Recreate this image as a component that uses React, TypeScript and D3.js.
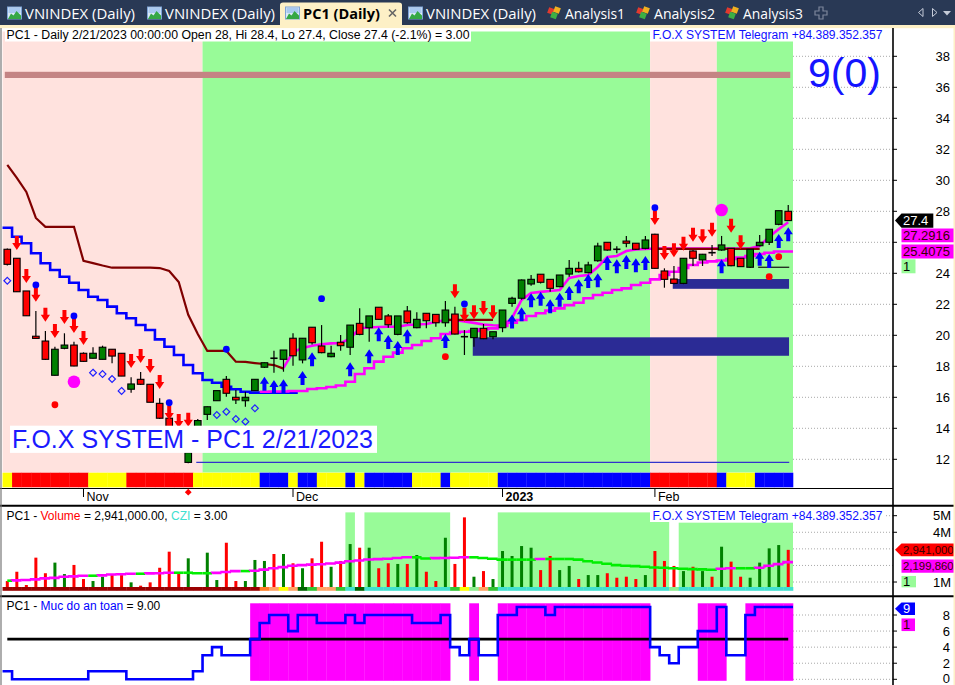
import React from "react";
import * as d3 from "d3";

// ---------------- DATA ----------------
const octDays = [20, 21, 24, 25, 26, 27, 28, 31];
const novDays = [1, 2, 3, 4, 7, 8, 9, 10, 11, 14, 15, 16, 17, 18, 21, 22, 23, 24, 25, 28, 29, 30];
const decDays = [1, 2, 5, 6, 7, 8, 9, 12, 13, 14, 15, 16, 19, 20, 21, 22, 23, 26, 27, 28, 29, 30];
const janDays = [3, 4, 5, 6, 9, 10, 11, 12, 13, 16, 17, 18, 19, 27, 30, 31];
const febDays = [1, 2, 3, 6, 7, 8, 9, 10, 13, 14, 15, 16, 17, 20, 21];
const pad = (n: number) => String(n).padStart(2, "0");
const dates: string[] = [
  ...octDays.map((d) => `2022-10-${pad(d)}`),
  ...novDays.map((d) => `2022-11-${pad(d)}`),
  ...decDays.map((d) => `2022-12-${pad(d)}`),
  ...janDays.map((d) => `2023-01-${pad(d)}`),
  ...febDays.map((d) => `2023-02-${pad(d)}`),
];

const monthTicks = [
  { date: "2022-11-01", label: "Nov", bold: false },
  { date: "2022-12-01", label: "Dec", bold: false },
  { date: "2023-01-03", label: "2023", bold: true },
  { date: "2023-02-01", label: "Feb", bold: false },
];

const opens = [25.55, 24.97, 22.86, 19.94, 19.63, 17.42, 19.16, 19.37, 18.84, 18.52,
  18.45, 19.1, 18.84, 16.52, 17.16, 16.84, 15.61, 14.65, 13.9, 11.8,
  13.0, 14.9, 15.78, 17.16, 16.0, 15.78, 16.43, 17.94, 18.52, 18.45,
  19.81, 18.41, 20.52, 19.31, 18.62, 19.55, 19.23, 20.77, 20.49, 21.81,
  21.25, 20.06, 21.57, 20.49, 21.42, 21.35, 20.81, 21.37, 19.91, 19.85,
  20.45, 19.91, 20.49, 22.06, 22.39, 23.31, 23.94, 23.61, 23.14, 23.95,
  24.32, 24.04, 24.81, 26.0, 25.55, 26.08, 25.94, 25.61, 26.52, 24.15,
  23.63, 23.35, 25.44, 24.86, 25.33, 25.5, 25.61, 24.97, 24.39, 25.78,
  26.0, 27.16, 28.0];
const highs = [25.6, 24.97, 22.86, 21.57, 20.28, 19.26, 20.13, 19.59, 18.9, 19.23,
  19.33, 19.1, 18.84, 17.29, 17.63, 16.84, 15.94, 14.8, 13.95, 13.8,
  14.6, 15.4, 16.43, 17.37, 16.47, 16.36, 17.16, 18.25, 19.0, 19.05,
  20.13, 19.81, 20.52, 20.66, 19.33, 20.02, 20.66, 21.74, 21.25, 21.81,
  21.37, 21.25, 21.89, 21.48, 21.42, 21.35, 22.21, 21.85, 20.34, 20.45,
  20.73, 20.23, 21.63, 22.49, 23.6, 23.89, 23.94, 23.61, 23.89, 24.86,
  24.75, 24.75, 25.97, 26.0, 25.75, 26.41, 25.94, 26.41, 26.55, 24.32,
  24.47, 24.97, 25.5, 25.25, 25.83, 26.41, 25.61, 24.97, 25.55, 26.47,
  26.84, 28.04, 28.4];
const lows = [24.5, 22.8, 21.26, 19.8, 18.4, 17.4, 19.1, 18.0, 18.3, 18.5,
  18.45, 18.19, 17.37, 16.3, 16.8, 15.68, 14.6, 13.6, 12.6, 11.75,
  12.9, 14.54, 15.78, 16.04, 15.57, 15.39, 16.43, 17.9, 17.59, 17.65,
  18.04, 18.19, 19.4, 18.84, 18.58, 19.0, 18.73, 20.0, 19.59, 21.0,
  20.49, 20.0, 20.75, 20.45, 20.45, 20.55, 20.55, 20.05, 18.73, 19.26,
  19.75, 19.74, 20.2, 21.85, 22.3, 23.2, 23.35, 22.81, 23.1, 23.78,
  24.05, 24.0, 24.75, 25.45, 25.3, 25.68, 25.5, 25.55, 24.3, 23.07,
  23.3, 23.3, 24.47, 24.47, 25.12, 25.45, 24.45, 24.43, 24.35, 25.75,
  25.83, 27.1, 27.4];
const closes = [24.58, 22.81, 21.26, 19.8, 18.45, 19.1, 19.37, 18.02, 18.32, 18.84,
  19.23, 18.66, 17.37, 16.86, 16.84, 15.68, 14.65, 13.8, 12.8, 12.43,
  14.5, 15.39, 16.43, 16.26, 15.83, 16.0, 17.16, 18.23, 18.52, 19.05,
  18.68, 19.81, 19.52, 18.88, 18.84, 19.33, 20.66, 20.06, 21.25, 21.03,
  20.68, 21.25, 20.81, 21.03, 20.94, 20.81, 21.63, 20.08, 19.91, 20.45,
  19.78, 20.23, 21.63, 22.39, 23.57, 23.61, 23.42, 23.03, 23.89, 24.32,
  24.1, 24.54, 25.76, 25.5, 25.55, 25.94, 25.55, 26.15, 24.32, 23.61,
  23.35, 24.97, 24.97, 25.23, 25.33, 25.83, 24.49, 24.43, 25.55, 26.0,
  26.84, 28.04, 27.4];

// volume in millions
const volumesM = [1.06, 1.62, 0.82, 2.47, 1.53, 2.17, 1.48, 2.03, 1.18, 1.06,
  1.32, 1.48, 1.42, 0.98, 0.78, 0.98, 1.86, 2.83, 1.53, 2.43,
  0.6, 2.77, 1.12, 3.37, 1.06, 1.06, 2.33, 2.27, 2.69, 2.69,
  2.13, 1.83, 2.43, 3.43, 1.92, 2.27, 3.29, 3.07, 3.07, 1.83,
  2.13, 2.09, 2.09, 2.63, 1.62, 1.06, 3.67, 2.09, 4.9, 1.32,
  1.66, 1.18, 2.87, 2.57, 3.17, 3.07, 1.72, 2.57, 1.72, 1.97,
  1.18, 1.42, 1.42, 1.53, 1.26, 1.32, 1.18, 1.42, 2.87, 2.27,
  1.97, 1.66, 1.92, 1.66, 1.32, 3.13, 2.23, 1.32, 1.26, 2.17,
  3.03, 3.23, 2.941];
const volumeMA_M = [1.08, 1.1, 1.12, 1.16, 1.22, 1.25, 1.32, 1.34, 1.38, 1.38,
  1.4, 1.45, 1.47, 1.5, 1.5, 1.52, 1.53, 1.56, 1.56, 1.56,
  1.53, 1.53, 1.55, 1.6, 1.66, 1.66, 1.68, 1.75, 1.83, 1.9,
  1.98, 2.02, 2.05, 2.07, 2.12, 2.17, 2.25, 2.3, 2.36, 2.38,
  2.4, 2.45, 2.49, 2.49, 2.42, 2.44, 2.45, 2.46, 2.49, 2.49,
  2.45, 2.4, 2.35, 2.35, 2.35, 2.35, 2.39, 2.39, 2.39, 2.39,
  2.35, 2.25, 2.18, 2.1, 2.02, 1.98, 1.96, 1.92, 1.88, 1.86,
  1.83, 1.8, 1.78, 1.76, 1.74, 1.8, 1.83, 1.83, 1.83, 1.86,
  1.98, 2.08, 2.19986];

const safetyLevel = [1, 0, 0, 0, 0, 0, 0, 0, 0, 1,
  1, 1, 1, 0, 0, 0, 0, 0, 0, 0,
  1, 3, 4, 3, 3, 3, 5, 7, 8, 8,
  6, 8, 8, 7, 7, 7, 8, 7, 8, 8,
  8, 8, 8, 7, 7, 7, 8, 4, 3, 5,
  3, 3, 8, 8, 9, 9, 9, 8, 9, 9,
  9, 9, 9, 9, 9, 9, 9, 9, 4, 3,
  2, 4, 4, 6, 6, 9, 3, 3, 8, 9,
  9, 9, 9];

const _ = null;
const stopLine = [30.99, 30.15, 29.25, 27.57, 27.0, 27.0, 27.0, 27.0, 24.8, 24.66,
  24.5, 24.36, 24.36, 24.36, 24.36, 24.36, 24.34, 24.15, 23.44, 21.32,
  20.08, 18.99, 18.99, 18.99, 18.3, 18.28, 18.21, 18.15, 18.08, 17.85,
  _, _, _, _, _, _, _, _, _, _,
  _, _, _, _, _, _, 20.99, 20.99, 20.99, 20.99,
  20.99, 20.99, _, _, _, _, _, _, _, _,
  _, _, _, _, _, _, _, _, 25.57, 25.57,
  25.57, 25.57, 25.57, 25.57, 25.57, 25.57, 25.57, 25.57, 25.57, 25.57,
  _, _, _];
const trailBlue = [26.94, 26.36, 25.94, 25.29, 24.65, 24.21, 23.78, 23.39, 22.92, 22.49,
  22.28, 21.85, 21.42, 21.1, 20.66, 20.34, 19.74, 19.26, 18.73, 18.08,
  17.55, 17.12, 16.94, 16.68, 16.52, 16.36, 16.3, 16.3, 16.3, 16.3,
  16.3, _, _, _, _, _, _, _, _, _,
  _, _, _, _, _, _, _, _, _, _,
  _, _, _, _, _, _, _, _, _, _,
  _, _, _, _, _, _, _, _, _, _,
  _, _, _, _, _, _, _, _, _, _,
  _, _, _];
const maSlow = [_, _, _, _, _, _, _, _, _, _,
  _, _, _, _, _, _, _, _, _, _,
  _, _, _, _, _, _, _, 16.36, 16.37, 16.37,
  16.41, 16.41, 16.54, 16.58, 16.66, 16.76, 17.0, 17.5, 17.87, 18.3,
  18.62, 18.88, 19.16, 19.37, 19.63, 19.81, 20.08, 20.17, 20.23, 20.28,
  20.39, 20.45, 20.6, 20.81, 20.99, 21.25, 21.42, 21.59, 21.74, 21.95,
  22.1, 22.39, 22.6, 22.75, 22.92, 23.03, 23.25, 23.39, 23.61, 23.89,
  24.1, 24.34, 24.54, 24.7, 24.77, 24.83, 24.92, 25.02, 25.12, 25.25,
  25.33, 25.41, 25.4075];
const maFast = [_, _, _, _, _, _, _, _, _, _,
  _, _, _, _, _, _, _, _, _, _,
  _, _, _, _, _, _, _, _, _, 17.9,
  18.92, 19.18, 19.33, 19.42, 19.48, 19.5, 19.8, 20.45, 20.5, 20.54,
  20.55, 20.55, 20.66, 20.7, 20.73, 20.86, 20.99, 20.99, 20.9, 20.8,
  20.7, 20.65, 20.62, 21.12, 22.28, 22.73, 22.8, 22.86, 22.92, 23.7,
  23.83, 23.89, 24.41, 25.05, 25.12, 25.44, 25.54, 25.57, 25.6, 25.6,
  25.6, 25.6, 25.6, 25.6, 25.6, 25.6, 25.6, 25.6, 25.62, 25.76,
  26.36, 26.85, 27.2916];

// [bar index, price at arrow tip]
const sellArrows = [[1, 25.5], [2, 23.37], [3, 22.17], [4, 20.88], [5, 19.83], [6, 20.73], [7, 20.15], [8, 19.37],
  [13, 17.89], [14, 18.21], [15, 17.57], [16, 16.54], [17, 14.54], [18, 14.02], [19, 14.1],
  [47, 22.39], [48, 20.88], [49, 21.03], [50, 21.31], [51, 21.03],
  [68, 27.12], [69, 24.86], [70, 25.03], [71, 25.46], [72, 26.04], [73, 25.94], [74, 26.36], [76, 26.62], [77, 25.55]];
const buyArrows = [[27, 17.33], [28, 17.12], [29, 17.16], [31, 17.7], [32, 18.9], [36, 18.26], [38, 19.1], [39, 20.52],
  [40, 20.02], [41, 19.63], [42, 20.39], [46, 20.08], [53, 21.35], [54, 21.81], [55, 22.71], [56, 22.81],
  [57, 22.32], [58, 22.75], [59, 23.18], [60, 23.61], [61, 23.95], [62, 24.0], [63, 25.12], [64, 24.9],
  [65, 25.18], [66, 24.97], [67, 25.12], [75, 24.9], [79, 25.39], [80, 25.25], [81, 26.54], [82, 26.97]];
const blueDots = [[3, 23.25], [7, 21.25], [17, 15.65], [23, 19.1], [33, 22.36], [48, 22.02], [68, 28.23]];
const redDots = [[5, 15.52], [46, 18.62], [80, 23.78], [81, 25.07]];
const bigDots = [[7, 17.0], [75, 28.08]];
const hollowDiamonds = [[0, 23.52], [9, 17.59], [10, 17.5], [11, 17.18], [12, 16.41], [22, 14.86], [23, 15.07], [24, 14.6], [25, 14.43], [26, 15.29]];

// zones: [firstBar, lastBar, kind]
const bgZones = [[0, 20, "pink"], [21, 67, "green"], [68, 74, "pink"], [75, 82, "green"]];
// navy boxes: [firstBar, lastBar, lowPrice, highPrice]
const navyBoxes = [[49, 82, 18.68, 19.87], [70, 82, 23.0, 23.63]];
const resistanceBand = [36.6, 37.0];
const supportLevel = [20, 82, 11.8];
const shortLevel = [79, 82, 24.39];
// volume pane green zones: [firstBar, lastBar, level (M)]
const volZones = [[36, 36, 5.2], [38, 46, 5.2], [52, 69, 5.2], [71, 82, 4.58]];

// colour strips as runs [code, count]
const mainStripRuns: [string, number][] = [["Y", 1], ["R", 8], ["Y", 4], ["R", 7], ["Y", 7], ["B", 3], ["Y", 1], ["B", 2], ["Y", 3], ["B", 1], ["Y", 1], ["B", 5], ["Y", 3], ["B", 1], ["Y", 5], ["B", 16], ["R", 7], ["B", 1], ["Y", 3], ["B", 4]];
const volStripRuns: [string, number][] = [["dr", 27], ["or", 1], ["lo", 1], ["ye", 1], ["lo", 1], ["dg", 1], ["gr", 1], ["lo", 2], ["gr", 1], ["tq", 1], ["dg", 1], ["tq", 9], ["gr", 1], ["ye", 1], ["lg", 1], ["lo", 1], ["gr", 1], ["tq", 18], ["lg", 1], ["tq", 12]];

const priceTicks = [12, 14, 16, 18, 20, 22, 24, 26, 28, 30, 32, 34, 36, 38];
const priceTickLabels = [12, 14, 16, 18, 20, 22, 24, 28, 30, 32, 34, 36, 38];
const volTicks = [1, 2, 3, 4, 5];
const volTickLabels = [1, 4, 5];
const safetyTicks = [0, 2, 4, 6, 8];

// ---------------- LAYOUT / SCALES ----------------
const FONT = "'Liberation Sans', Arial, Helvetica, sans-serif";
const UI_FONT = "'Open Sans', 'Noto Sans', 'DejaVu Sans', sans-serif";
const COLORS: Record<string, string> = {
  pink: "#ffe2de", green: "#98fb98",
  Y: "#ffff00", R: "#ff0000", B: "#0000ff",
  dr: "#990000", or: "#ff7f27", lo: "#ffa366", ye: "#ffff00", dg: "#006400", gr: "#33c433", tq: "#40e0d0", lg: "#90ee90",
};

const xBand = d3.scaleBand<string>().domain(dates).range([2.54, 793.0]).paddingInner(0).paddingOuter(0);
const bw = xBand.bandwidth();
const lx = (i: number) => xBand(dates[i]) as number;
const rx = (i: number) => (xBand(dates[i]) as number) + bw;
const cx = (i: number) => lx(i) + bw / 2;

const priceY = d3.scaleLinear().domain([12, 38]).range([459.3, 56.3]);
const volY = d3.scaleLinear().domain([0, 5]).range([598.6, 515.7]);
const safeY = d3.scaleLinear().domain([0, 8]).range([679.3, 615]);

const AXIS_X = 893;
const MAIN_TOP = 31.5, MAIN_BOTTOM = 472.5;
const VOL_BOTTOM = 587;

function stepD(vals: (number | null)[], y: (v: number) => number): string {
  const idx = vals.map((v, i) => (v == null ? -1 : i)).filter((i) => i >= 0);
  const pts: [number, number][] = idx.map((i) => [lx(i), y(vals[i] as number)]);
  const last = idx[idx.length - 1];
  pts.push([rx(last), y(vals[last] as number)]);
  return d3.line().curve(d3.curveStepAfter)(pts) || "";
}

const linePrice = d3
  .line<number | null>()
  .defined((v) => v != null)
  .x((_v, i) => cx(i))
  .y((v) => priceY(v as number));

function expandRuns(runs: [string, number][]): string[] {
  const out: string[] = [];
  runs.forEach(([c, n]) => { for (let k = 0; k < n; k++) out.push(c); });
  return out;
}
const mainStrip = expandRuns(mainStripRuns);
const volStrip = expandRuns(volStripRuns);

const downArrow = (x: number, ty: number) =>
  `M${x - 2},${ty - 14}H${x + 2}V${ty - 7}H${x + 4.6}L${x},${ty}L${x - 4.6},${ty - 7}H${x - 2}Z`;
const upArrow = (x: number, ty: number) =>
  `M${x - 2},${ty + 14}H${x + 2}V${ty + 7}H${x + 4.6}L${x},${ty}L${x - 4.6},${ty + 7}H${x - 2}Z`;

function Tag({ yc, x1, fill, text, color, arrow, h = 14.4, fs = 13 }: any) {
  const x0 = 901.5;
  const top = yc - h / 2, bot = yc + h / 2;
  const d = arrow
    ? `M${x0 - 6.5},${yc}L${x0},${top}H${x1}V${bot}H${x0}Z`
    : `M${x0},${top}H${x1}V${bot}H${x0}Z`;
  return (
    <g>
      <path d={d} fill={fill} />
      <text x={x0 + 1.5} y={yc + fs * 0.36} fontSize={fs} fill={color} fontFamily={FONT}>{text}</text>
    </g>
  );
}

function ChartIcon({ x, y }: any) {
  return (
    <g transform={`translate(${x},${y})`}>
      <rect x={0.5} y={0.5} width={14} height={12} fill="#dbe9f8" stroke="#7ea3d6" />
      <rect x={1.5} y={1.5} width={12} height={5} fill="#a9c9f0" />
      <path d="M1,12.5 L4,7 L6.5,9 L9.5,4.5 L14,9 L14,12.5 Z" fill="#36a845" />
    </g>
  );
}
function AnalysisIcon({ x, y }: any) {
  return (
    <g transform={`translate(${x},${y})`}>
      <rect x={0} y={1} width={6} height={6} fill="#e23a2e" transform="rotate(20 3 4)" />
      <rect x={6} y={0} width={6} height={6} fill="#f0b020" transform="rotate(20 9 3)" />
      <rect x={3} y={5.5} width={6} height={6} fill="#3cb044" transform="rotate(20 6 8.5)" />
    </g>
  );
}

export default function App() {
  const fmtInt = d3.format(",");
  const lastI = dates.length - 1;

  const t1 = priceY(closes[lastI]);
  const t2 = Math.max(priceY(maFast[lastI] as number), t1 + 14.8);
  const t3 = Math.max(priceY(maSlow[lastI] as number), t2 + 14.8);
  const t4 = t3 + 14.8;
  const v1 = volY(volumesM[lastI]);
  const v2 = Math.max(volY(volumeMA_M[lastI]), v1 + 16.3);
  const v3 = v2 + 15.5;
  const s1 = safeY(safetyLevel[lastI]) + 1.8;
  const s2 = s1 + 16;

  const tabs = [
    { kind: "chart", label: "VNINDEX (Daily)", ix: 7, tx: 25, tw: 110 },
    { kind: "chart", label: "VNINDEX (Daily)", ix: 147, tx: 165, tw: 110 },
    { kind: "active", label: "PC1 (Daily)", ix: 285, tx: 303, tw: 77 },
    { kind: "chart", label: "VNINDEX (Daily)", ix: 408, tx: 426, tw: 110 },
    { kind: "analysis", label: "Analysis1", ix: 548, tx: 565, tw: 60 },
    { kind: "analysis", label: "Analysis2", ix: 637, tx: 654, tw: 61 },
    { kind: "analysis", label: "Analysis3", ix: 726, tx: 743, tw: 60 },
  ];

  return (
    <svg width={955} height={685} style={{ position: "absolute", left: 0, top: 0, background: "#fff" }} fontFamily={FONT}>
      <rect x={0} y={0} width={955} height={685} fill="#fff" />

      {/* ---------- tab bar ---------- */}
      <rect x={0} y={0} width={955} height={25} fill="#293955" />
      <path d="M280,25 V5 Q280,2.5 283,2.5 H399 Q402,2.5 402,5 V25 Z" fill="#fdf0c6" />
      <rect x={0} y={25} width={955} height={3.2} fill="#fdf0c6" />
      {tabs.map((t, k) => (
        <g key={k}>
          {t.kind === "analysis" ? <AnalysisIcon x={t.ix} y={7} /> : <ChartIcon x={t.ix} y={6.5} />}
          <text x={t.tx} y={18.5} fontSize={14} fontFamily={UI_FONT} fontWeight={t.kind === "active" ? 700 : 400}
            fill={t.kind === "active" ? "#000" : "#ffffff"} textLength={t.tw} lengthAdjust="spacingAndGlyphs">{t.label}</text>
        </g>
      ))}
      <path d="M389,9.5 L396,16.5 M396,9.5 L389,16.5" stroke="#666" strokeWidth={1.6} />
      <path d="M820,8 h4 v4 h4 v4 h-4 v4 h-4 v-4 h-4 v-4 h4 Z" fill="none" stroke="#7c869b" strokeWidth={1.2} transform="translate(-1,-1)" />
      <path d="M923,8.5 L918.5,12.5 L923,16.5 Z" fill="none" stroke="#c5cbd8" strokeWidth={1} />
      <path d="M932.5,8.5 L937,12.5 L932.5,16.5 Z" fill="none" stroke="#c5cbd8" strokeWidth={1} />
      <path d="M943,11 H951 L947,15.5 Z" fill="#c5cbd8" />

      {/* ---------- main pane ---------- */}
      {priceTicks.map((p) => (
        <line key={p} x1={793} x2={AXIS_X} y1={priceY(p)} y2={priceY(p)} stroke="#a8a8a8" strokeDasharray="1,2" />
      ))}
      {bgZones.map(([a, b, k]: any, n) => (
        <rect key={n} x={lx(a)} y={MAIN_TOP} width={rx(b) - lx(a)} height={MAIN_BOTTOM - MAIN_TOP} fill={COLORS[k]} />
      ))}
      <rect x={cx(0) - 2.5} width={cx(lastI) - cx(0) + 4.5} y={priceY(resistanceBand[1])} height={priceY(resistanceBand[0]) - priceY(resistanceBand[1])} fill="#c48484" />
      {navyBoxes.map(([a, b, lo, hi], n) => (
        <rect key={n} x={cx(a) - 1.2} width={cx(b) - cx(a) + 2} y={priceY(hi)} height={priceY(lo) - priceY(hi)} fill="#2b2b95" />
      ))}
      <line x1={cx(supportLevel[0]) - 1.5} x2={cx(supportLevel[1]) + 1} y1={priceY(supportLevel[2])} y2={priceY(supportLevel[2])} stroke="#3333cc" strokeWidth={1.2} />
      <line x1={cx(shortLevel[0]) - 1.5} x2={cx(shortLevel[1]) + 1} y1={priceY(shortLevel[2])} y2={priceY(shortLevel[2])} stroke="#111" strokeWidth={1.2} />

      <path d={stepD(trailBlue, priceY)} fill="none" stroke="#0000ff" strokeWidth={2.6} />
      <path d={stepD(maSlow, priceY)} fill="none" stroke="#ff00ff" strokeWidth={2.6} />
      <path d={linePrice(maFast) || ""} fill="none" stroke="#ff00ff" strokeWidth={2.6} />
      <path d={linePrice(stopLine) || ""} fill="none" stroke="#800000" strokeWidth={2.2} />

      {dates.map((d, i) => {
        const o = opens[i], c = closes[i], h = highs[i], l = lows[i];
        const x = cx(i);
        if (o === c) {
          return (
            <g key={d} stroke="#000" strokeWidth={1.2}>
              <line x1={x} x2={x} y1={priceY(h)} y2={priceY(l)} />
              <line x1={x - 3.6} x2={x + 3.6} y1={priceY(o)} y2={priceY(o)} strokeWidth={1.6} />
            </g>
          );
        }
        const top = priceY(Math.max(o, c)), bot = priceY(Math.min(o, c));
        return (
          <g key={d}>
            <line x1={x} x2={x} y1={priceY(h)} y2={priceY(l)} stroke="#000" strokeWidth={1.2} />
            <rect x={x - 3.3} width={6.6} y={top} height={Math.max(1.5, bot - top)} fill={c > o ? "#008000" : "#ff0000"} stroke="#000" strokeWidth={1.1} />
          </g>
        );
      })}

      {sellArrows.map(([i, p]) => <path key={"s" + i} d={downArrow(cx(i), priceY(p))} fill="#ff0000" />)}
      {buyArrows.map(([i, p]) => <path key={"b" + i} d={upArrow(cx(i), priceY(p))} fill="#0000ff" />)}
      {blueDots.map(([i, p]) => <circle key={"bd" + i} cx={cx(i)} cy={priceY(p)} r={3.4} fill="#0000ff" />)}
      {redDots.map(([i, p]) => <circle key={"rd" + i} cx={cx(i)} cy={priceY(p)} r={3.4} fill="#ff0000" />)}
      {bigDots.map(([i, p]) => <circle key={"md" + i} cx={cx(i)} cy={priceY(p)} r={6.3} fill="#ff00ff" />)}
      {hollowDiamonds.map(([i, p]) => {
        const x = cx(i), y = priceY(p);
        return <path key={"hd" + i} d={`M${x},${y - 3.4}L${x + 3.4},${y}L${x},${y + 3.4}L${x - 3.4},${y}Z`} fill="none" stroke="#2020ff" strokeWidth={1.2} />;
      })}

      <text x={808} y={87} fontSize={41} fill="#1414ff" fontFamily={FONT}>9(0)</text>
      <rect x={10} y={425.7} width={367} height={27.2} fill="#ffffff" />
      <text x={12} y={448} fontSize={25} fill="#1a1aff" fontFamily={FONT} textLength={361} lengthAdjust="spacingAndGlyphs">F.O.X SYSTEM - PC1 2/21/2023</text>

      {mainStrip.map((c, i) => (
        <rect key={"ms" + i} x={lx(i)} y={472.7} width={bw + 0.3} height={14.6} fill={COLORS[c]} />
      ))}

      <rect x={5} y={28.5} width={466} height={13} fill="#fff" />
      <text x={6.5} y={39} fontSize={12} fill="#000" textLength={463} lengthAdjust="spacingAndGlyphs">PC1 - Daily 2/21/2023 00:00:00 Open 28, Hi 28.4, Lo 27.4, Close 27.4 (-2.1%)   = 3.00</text>
      <rect x={650} y={28.5} width={234} height={13} fill="#fff" />
      <text x={652.5} y={39} fontSize={12} fill="#1010ff" textLength={230} lengthAdjust="spacingAndGlyphs">F.O.X SYSTEM Telegram +84.389.352.357</text>

      <line x1={0} x2={AXIS_X} y1={488.5} y2={488.5} stroke="#000" strokeWidth={1} />
      {monthTicks.map((m) => {
        const i = dates.indexOf(m.date);
        const x = cx(i);
        return (
          <g key={m.date}>
            <line x1={x} x2={x} y1={489} y2={497} stroke="#000" strokeWidth={1} />
            <text x={x + 3} y={500.5} fontSize={12.5} fontWeight={m.bold ? 700 : 400} fill="#000">{m.label}</text>
          </g>
        );
      })}
      <path d={`M${cx(19)},${488.8}L${cx(19) + 3.4},${492.2}L${cx(19)},${495.6}L${cx(19) - 3.4},${492.2}Z`} fill="#ff0000" />

      {/* ---------- volume pane ---------- */}
      <line x1={0} x2={955} y1={505.8} y2={505.8} stroke="#000" strokeWidth={2} />
      {volTicks.map((v) => (
        <line key={v} x1={793} x2={AXIS_X} y1={volY(v)} y2={volY(v)} stroke="#a8a8a8" strokeDasharray="1,2" />
      ))}
      {volZones.map(([a, b, lv], n) => (
        <rect key={n} x={lx(a)} width={rx(b) - lx(a)} y={volY(lv)} height={VOL_BOTTOM - volY(lv)} fill="#98fb98" />
      ))}
      <rect x={650} y={508.5} width={234} height={13.5} fill="#fff" />
      <text x={652.5} y={519.5} fontSize={12} fill="#1010ff" textLength={230} lengthAdjust="spacingAndGlyphs">F.O.X SYSTEM Telegram +84.389.352.357</text>
      {volumesM.map((v, i) => (
        <rect key={"v" + i} x={cx(i) - 1.5} width={3} y={volY(v)} height={Math.max(0, VOL_BOTTOM - volY(v))} fill={closes[i] > opens[i] ? "#008000" : "#ff0000"} />
      ))}
      {volumeMA_M.map((m, i) => {
        const prev = i === 0 ? m : volumeMA_M[i - 1];
        const rising = m > prev;
        const d = `M${i === 0 ? cx(0) : lx(i)},${volY(prev)}V${volY(m)}H${rx(i)}`;
        return <path key={"ma" + i} d={d} fill="none" stroke={rising ? "#ff00ff" : "#00ee00"} strokeWidth={2.6} />;
      })}
      {volStrip.map((c, i) => (
        <rect key={"vs" + i} x={lx(i)} y={587} width={bw + 0.3} height={3.8} fill={COLORS[c]} />
      ))}
      <text x={6.5} y={520} fontSize={12} fill="#000">
        <tspan>PC1 - </tspan><tspan fill="#ff0000">Volume</tspan><tspan> = 2,941,000.00, </tspan><tspan fill="#40e0d0">CZI</tspan><tspan> = 3.00</tspan>
      </text>

      {/* ---------- safety pane ---------- */}
      <line x1={0} x2={955} y1={596.2} y2={596.2} stroke="#000" strokeWidth={2} />
      {safetyTicks.map((v) => (
        <line key={v} x1={793} x2={AXIS_X} y1={safeY(v)} y2={safeY(v)} stroke="#a8a8a8" strokeDasharray="1,2" />
      ))}
      {safetyLevel.map((v, i) =>
        v >= 5 ? <rect key={"sz" + i} x={lx(i)} y={603.3} width={bw + 0.3} height={77.5} fill="#ff00ff" /> : null
      )}
      <line x1={cx(0)} x2={cx(lastI)} y1={safeY(5)} y2={safeY(5)} stroke="#000" strokeWidth={2.6} />
      <path d={stepD(safetyLevel, safeY)} fill="none" stroke="#0000ff" strokeWidth={2.6} />
      <text x={6.5} y={610} fontSize={12} fill="#000">
        <tspan>PC1 - </tspan><tspan fill="#0000ff">Muc do an toan</tspan><tspan> = 9.00</tspan>
      </text>

      {/* ---------- right axis ---------- */}
      <line x1={AXIS_X} x2={AXIS_X} y1={28} y2={685} stroke="#000" strokeWidth={1.6} />
      <line x1={1} x2={1} y1={28} y2={685} stroke="#777" strokeWidth={1.2} />
      {priceTicks.map((p) => (
        <line key={"ptk" + p} x1={AXIS_X} x2={AXIS_X + 4} y1={priceY(p)} y2={priceY(p)} stroke="#000" />
      ))}
      {priceTickLabels.map((p) => (
        <text key={"pt" + p} x={950} y={priceY(p) + 4.6} fontSize={13} textAnchor="end" fill="#000">{p}</text>
      ))}
      {volTickLabels.map((v) => (
        <g key={"vt" + v}>
          <line x1={AXIS_X} x2={AXIS_X + 4} y1={volY(v)} y2={volY(v)} stroke="#000" />
          <text x={951} y={volY(v) + 4.6} fontSize={13} textAnchor="end" fill="#000">{v}M</text>
        </g>
      ))}
      {safetyTicks.map((v) => (
        <g key={"st" + v}>
          <line x1={AXIS_X} x2={AXIS_X + 4} y1={safeY(v)} y2={safeY(v)} stroke="#000" />
          <text x={950} y={Math.min(safeY(v) + 4.6, 683)} fontSize={13} textAnchor="end" fill="#000">{v}</text>
        </g>
      ))}

      <Tag yc={t1} x1={933.3} fill="#000000" color="#ffffff" text={String(closes[lastI])} arrow />
      <Tag yc={t2} x1={954} fill="#ff00ff" color="#3a0000" text={String(maFast[lastI])} h={13.8} />
      <Tag yc={t3} x1={954} fill="#ff00ff" color="#3a0000" text={String(maSlow[lastI])} h={14.2} />
      <Tag yc={t4} x1={915.5} fill="#98fb98" color="#000" text="1" h={14} />

      <Tag yc={v1} x1={955} fill="#ff0000" color="#3a0000" text={fmtInt(Math.round(volumesM[lastI] * 1e6))} arrow h={12.8} fs={11.4} />
      <Tag yc={v2} x1={955} fill="#ff00ff" color="#3a0000" text={fmtInt(Math.round(volumeMA_M[lastI] * 1e6))} h={13.4} fs={11.4} />
      <Tag yc={v3} x1={916} fill="#98fb98" color="#000" text="1" h={11.4} />

      <Tag yc={s1} x1={915} fill="#0000ff" color="#ffffff" text={String(safetyLevel[lastI])} arrow h={12.4} />
      <Tag yc={s2} x1={915} fill="#ff00ff" color="#3a0000" text="1" h={12.6} />

      <rect x={953.5} y={28} width={1.5} height={657} fill="#fdf0c6" />
    </svg>
  );
}
